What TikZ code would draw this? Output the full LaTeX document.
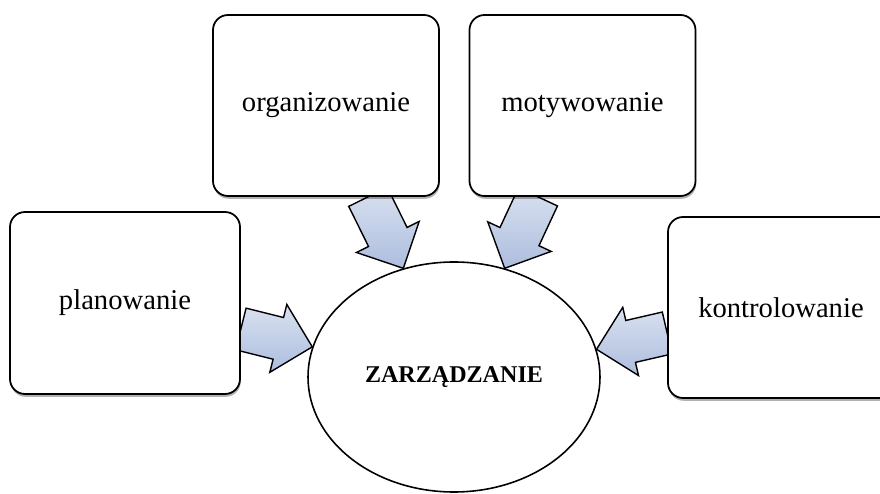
\documentclass[tikz,border=0pt]{standalone}
\usepackage{fontspec}
\setmainfont{Liberation Serif}
\usetikzlibrary{shapes.geometric,shadows,calc,backgrounds}
\definecolor{arrowblue}{RGB}{172,189,222}

% block arrow from #1 to the tip #2
\newcommand\pusharrow[2]{%
  \coordinate (hb) at ($(#2)!0.7cm!(#1)$);
  \draw [push arrow]
    ($(#1)!0.43cm!90:(#2)$) -- ($(hb)!0.43cm!90:(#2)$) -- ($(hb)!0.7cm!90:(#2)$) -- (#2)
    -- ($(hb)!0.7cm!-90:(#2)$) -- ($(hb)!0.43cm!-90:(#2)$) -- ($(#1)!0.43cm!-90:(#2)$) -- cycle;}

\begin{document}
\begin{tikzpicture}[
    every node/.style={font=\fontsize{16.3}{19}\selectfont},
    task box/.style={rectangle,rounded corners=0.3cm,draw=black,line width=1pt,fill=white,
        minimum width=4.52cm,minimum height=3.62cm,
        drop shadow={shadow xshift=0.4pt,shadow yshift=-1.6pt,opacity=0.3,fill=black}},
    centre/.style={ellipse,draw=black,line width=0.9pt,fill=white,inner sep=0pt,
        minimum width=5.84cm,minimum height=4.6cm,font=\fontsize{13.7}{16}\selectfont\bfseries},
    push arrow/.style={draw=black,line width=0.8pt,line join=miter,
        top color=arrowblue!45!white,bottom color=arrowblue}
]
\useasboundingbox (0,0) rectangle (17.6,-9.88);

\node [task box,minimum width=4.6cm,minimum height=3.64cm] (plan) at (2.5,-6.06) {planowanie};
\node [task box] (organ) at (6.52,-2.11) {organizowanie};
\node [task box] (motyw) at (11.65,-2.11) {motywowanie};
\node [task box] (kontrol) at (15.62,-6.15) {kontrolowanie};

\node [centre] (zarz) at (9.08,-7.54) {ZARZĄDZANIE};

% arrow ends on the boxes
\coordinate (plan out) at ($(plan.east)+(0,-0.52)$);
\coordinate (organ out) at ($(organ.south)+(0.84,0)$);
\coordinate (motyw out) at ($(motyw.south)+(-0.89,0)$);
\coordinate (kontrol out) at ($(kontrol.west)+(0,-0.51)$);

\begin{scope}[on background layer]
\pusharrow{plan out}{zarz.168}
\pusharrow{organ out}{zarz.115}
\pusharrow{motyw out}{zarz.65}
\pusharrow{kontrol out}{zarz.11}
\end{scope}

\end{tikzpicture}
\end{document}
